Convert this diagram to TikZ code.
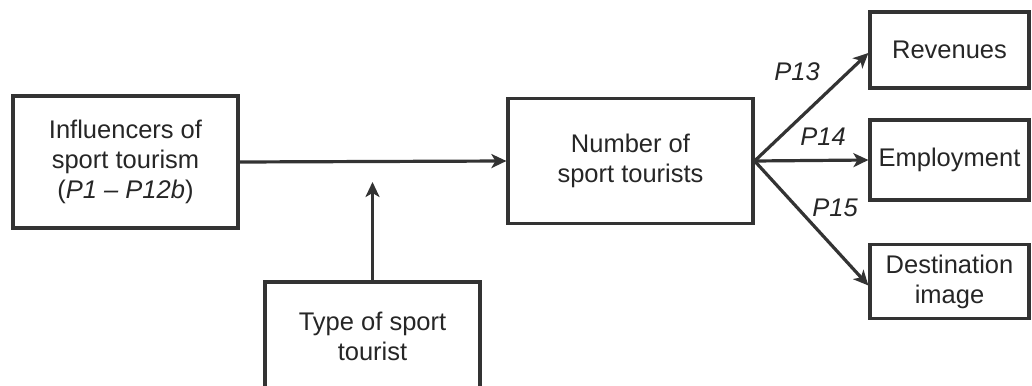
\documentclass[tikz,border=0pt]{standalone}
\usepackage{fontspec}
\setmainfont{Liberation Sans}
\usetikzlibrary{arrows.meta}
\begin{document}
\begin{tikzpicture}[x=1pt,y=-1pt,
  box/.style={draw=black!80, line width=3.2pt, align=center, inner sep=0pt,
    text=black!85, font=\fontsize{25.5}{30}\selectfont},
  conn/.style={draw=black!80, line width=3.2pt, -{Stealth[length=15pt,width=14pt,inset=4pt]}},
  plabel/.style={text=black!85, font=\fontsize{25.5}{30}\selectfont\itshape, inner sep=0pt}]
\useasboundingbox (0,0) rectangle (1032,385);
\clip (0,0) rectangle (1032,385);
\fill[white] (0,0) rectangle (1032,385);
\node[box, minimum width=225pt, minimum height=132pt] (infl) at (125.5,162) {Influencers of\\sport tourism\\(\textit{P1 – P12b})};
\node[box, minimum width=245pt, minimum height=125pt] (num) at (630.5,161) {Number of\\sport tourists};
\node[box, minimum width=159pt, minimum height=76pt] (rev) at (949.5,50) {Revenues};
\node[box, minimum width=159pt, minimum height=80pt] (emp) at (949.5,160) {Employment};
\node[box, minimum width=159pt, minimum height=74pt] (dest) at (949.5,281.5) {Destination\\image};
\node[box, minimum width=215pt, minimum height=108pt] (type) at (372.5,336) {Type of sport\\tourist};
\coordinate (mod) at (372.5,182);
\draw[conn] (infl.east) -- (num.west);
\draw[conn] (type.north) -- (mod);
\draw[conn] (num.east) -- ([yshift=-3pt]rev.west);
\draw[conn] (num.east) -- (emp.west);
\draw[conn] (num.east) -- ([yshift=-4pt]dest.west);
\node[plabel] (p13) at (797,72) {P13};
\node[plabel] (p14) at (823,137) {P14};
\node[plabel] (p15) at (835,208) {P15};
\end{tikzpicture}
\end{document}
